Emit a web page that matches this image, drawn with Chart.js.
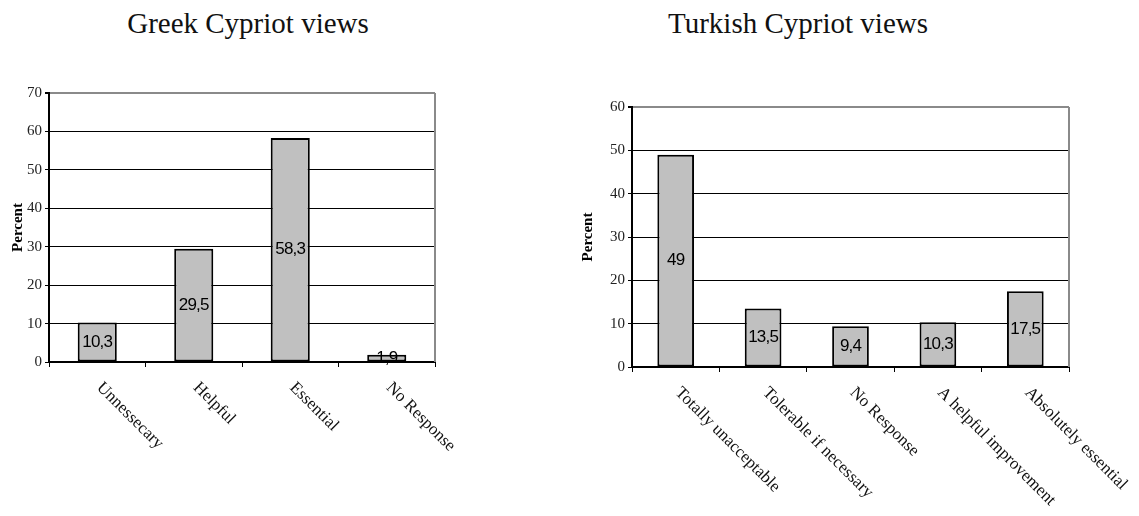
<!DOCTYPE html>
<html>
<head>
<meta charset="utf-8">
<script src="https://cdn.jsdelivr.net/npm/chart.js@4/dist/chart.umd.min.js"></script>
<style>
  html, body { margin: 0; padding: 0; background: #fff; }
  #wrap { position: relative; width: 1139px; height: 516px; overflow: hidden; }
  .title { position: absolute; top: 7px; width: 400px; text-align: center;
           font-family: "Liberation Serif", "Times New Roman", serif; font-size: 29px; color: #111; }
  canvas { position: absolute; top: 0; }
</style>
</head>
<body>
<div id="wrap">
  <div class="title" style="left:48px">Greek Cypriot views</div>
  <div class="title" style="left:598px">Turkish Cypriot views</div>
  <canvas id="greek-chart" width="560" height="516" style="left:0"></canvas>
  <canvas id="turkish-chart" width="579" height="516" style="left:560px"></canvas>
</div>
<script>
// data
const greekLabels = ["Unnessecary", "Helpful", "Essential", "No Response"];
const greekValues = [10.3, 29.5, 58.3, 1.9];
const greekTicks = [0, 10, 20, 30, 40, 50, 60, 70];

const turkishLabels = ["Totally unacceptable", "Tolerable if necessary", "No Response", "A helpful improvement", "Absolutely essential"];
const turkishValues = [49, 13.5, 9.4, 10.3, 17.5];
const turkishTicks = [0, 10, 20, 30, 40, 50, 60];

const serif = '"Liberation Serif", "Times New Roman", serif';

// value labels inside bars, slanted category labels, grey plot frame
const barTextPlugin = {
  id: "barText",
  beforeDatasetsDraw(chart) {
    const { ctx, chartArea } = chart;
    ctx.save();
    ctx.strokeStyle = "#8a8a8a";
    ctx.lineWidth = 2;
    ctx.beginPath();
    ctx.moveTo(chartArea.right, chartArea.top);
    ctx.lineTo(chartArea.right, chartArea.bottom);
    ctx.stroke();
    ctx.restore();
  },
  afterDatasetsDraw(chart) {
    const ctx = chart.ctx;
    const meta = chart.getDatasetMeta(0);
    const values = chart.data.datasets[0].data;
    ctx.save();
    ctx.fillStyle = "#000";
    ctx.font = '17px "Liberation Sans", Arial, sans-serif';
    ctx.letterSpacing = "-0.8px";
    ctx.textAlign = "center";
    ctx.textBaseline = "middle";
    meta.data.forEach((bar, i) => {
      const text = String(values[i]).replace(".", ",");
      ctx.fillText(text, bar.x, (bar.y + bar.base) / 2);
    });

    const xs = chart.scales.x;
    ctx.letterSpacing = "0px";
    ctx.font = "17px " + serif;
    ctx.fillStyle = "#111";
    ctx.textAlign = "left";
    ctx.textBaseline = "top";
    chart.data.labels.forEach((label, i) => {
      const x = xs.getPixelForValue(i);
      ctx.save();
      ctx.translate(x + 8, xs.top + 17);
      ctx.rotate(Math.PI / 4);
      ctx.fillText(label, 0, 0);
      ctx.restore();
    });
    ctx.restore();
  },
};

function makeChart(canvasId, labels, values, ticks, box) {
  const yMax = ticks[ticks.length - 1];
  return new Chart(document.getElementById(canvasId), {
    type: "bar",
    data: {
      labels,
      datasets: [
        {
          data: values,
          backgroundColor: "#c0c0c0",
          borderColor: "#000",
          borderWidth: 2,
          borderSkipped: false,
          categoryPercentage: 1,
          barPercentage: box.barPct,
        },
      ],
    },
    options: {
      responsive: false,
      animation: false,
      devicePixelRatio: 1,
      layout: {
        padding: { left: 0, right: box.padRight, top: box.padTop, bottom: box.padBottom },
      },
      plugins: {
        legend: { display: false },
        tooltip: { enabled: false },
      },
      scales: {
        x: {
          type: "category",
          offset: true,
          ticks: { display: false },
          grid: { offset: true, drawOnChartArea: false, drawTicks: true, tickLength: 5, color: "#000", lineWidth: 1 },
          border: { color: "#000", width: 2 },
          afterFit: (s) => { s.height = 5; },
        },
        y: {
          min: 0,
          max: yMax,
          afterBuildTicks: (s) => { s.ticks = ticks.map((v) => ({ value: v })); },
          ticks: { font: { family: serif, size: 15 }, color: "#222", padding: 3 },
          grid: {
            color: (c) => (c.tick && c.tick.value === yMax ? "#8a8a8a" : "#000"),
            lineWidth: (c) => (c.tick && c.tick.value === yMax ? 2 : 1),
            tickColor: "#000",
            tickLength: 4,
            drawTicks: true,
          },
          border: { color: "#000", width: 2 },
          title: {
            display: true,
            text: "Percent",
            color: "#000",
            font: { family: serif, size: 15, weight: "bold" },
            padding: { top: box.titlePad, bottom: 0 },
          },
          afterFit: (s) => { s.width = box.axisWidth; },
        },
      },
    },
    plugins: [barTextPlugin],
  });
}

makeChart("greek-chart", greekLabels, greekValues, greekTicks, {
  axisWidth: 49, padRight: 125, padTop: 93, padBottom: 149, barPct: 0.405, titlePad: 9,
});
makeChart("turkish-chart", turkishLabels, turkishValues, turkishTicks, {
  axisWidth: 72, padRight: 70, padTop: 107, padBottom: 144, barPct: 0.42, titlePad: 19,
});
</script>
</body>
</html>
